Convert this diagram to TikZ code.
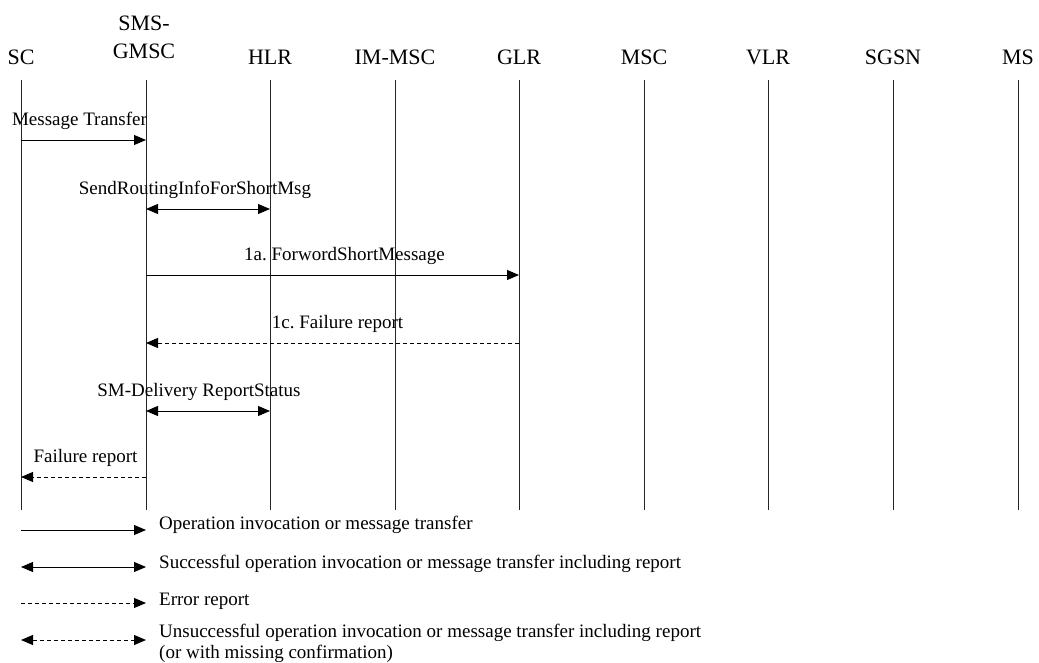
\documentclass[tikz,border=0pt]{standalone}
\usepackage{fontspec}
\setmainfont{Liberation Serif}
\usetikzlibrary{arrows.meta}
\frenchspacing

\begin{document}
\begin{tikzpicture}[
  x=1pt, y=-1pt,
  >={Triangle[length=12pt,width=10pt]},
  hdr/.style={anchor=base, inner sep=0pt, align=center, font=\fontsize{22}{28}\selectfont},
  lbl/.style={anchor=base, inner sep=0pt, yshift=15pt, font=\fontsize{19}{21}\selectfont},
  key/.style={anchor=base west, inner sep=0pt, align=left, font=\fontsize{19}{21}\selectfont},
  life/.style={line width=1pt, draw=black!85},
  msg/.style={->, line width=0.9pt},
  both/.style={<->, line width=0.9pt},
  err/.style={->, line width=0.9pt, dash pattern=on 4pt off 3pt},
  errb/.style={<->, line width=0.9pt, dash pattern=on 4pt off 3pt},
]
\useasboundingbox (0,0) rectangle (1039,662);

% entities and lifelines
\foreach \n/\x/\t in {sc/21/SC, hlr/270/HLR, immsc/395/IM-MSC, glr/519/GLR,
                      msc/644/MSC, vlr/768/VLR, sgsn/893/SGSN, ms/1018/MS}
  \node[hdr] (\n-lbl) at (\x,64) {\t};
\node[hdr] (gmsc-lbl) at (144,58) {SMS-\\GMSC};
\foreach \n/\x in {sc/21, gmsc/146, hlr/270, immsc/395, glr/519,
                   msc/644, vlr/768, sgsn/893, ms/1018} {
  \coordinate (\n) at (\x,80);
  \coordinate (\n-end) at (\x,510);
  \draw[life] (\n) -- (\n-end);
}

% message rows
\coordinate (m1) at (0,140);
\coordinate (m2) at (0,209);
\coordinate (m3) at (0,275);
\coordinate (m4) at (0,343);
\coordinate (m5) at (0,411);
\coordinate (m6) at (0,477);

\draw[msg] (sc |- m1) -- node[lbl, xshift=-4pt] {Message Transfer} (gmsc |- m1);
\draw[both] (gmsc |- m2) -- node[lbl, xshift=-13pt] {SendRoutingInfoForShortMsg} (hlr |- m2);
\draw[msg] (gmsc |- m3) -- node[lbl, xshift=12pt] {1a. ForwordShortMessage} (glr |- m3);
\draw[err] (glr |- m4) -- node[lbl, xshift=5pt] {1c. Failure report} (gmsc |- m4);
\draw[both] (gmsc |- m5) -- node[lbl, xshift=-9pt] {SM-Delivery ReportStatus} (hlr |- m5);
\draw[err] (gmsc |- m6) -- node[lbl, xshift=2pt] {Failure report} (sc |- m6);

% legend
\coordinate (k1) at (21,530); \coordinate (k1-r) at (146,530);
\coordinate (k2) at (21,567); \coordinate (k2-r) at (146,567);
\coordinate (k3) at (21,603); \coordinate (k3-r) at (146,603);
\coordinate (k4) at (21,640); \coordinate (k4-r) at (146,640);
\draw[msg] (k1) -- (k1-r);
\draw[both] (k2) -- (k2-r);
\draw[err] (k3) -- (k3-r);
\draw[errb] (k4) -- (k4-r);
\node[key] (k1-txt) at (159,529) {Operation invocation or message transfer};
\node[key] (k2-txt) at (159,568) {Successful operation invocation or message transfer including report};
\node[key] (k3-txt) at (159,605) {Error report};
\node[key, anchor=west] (k4-txt) at (159,643) {Unsuccessful operation invocation or message transfer including report\\(or with missing confirmation)};
\end{tikzpicture}
\end{document}
